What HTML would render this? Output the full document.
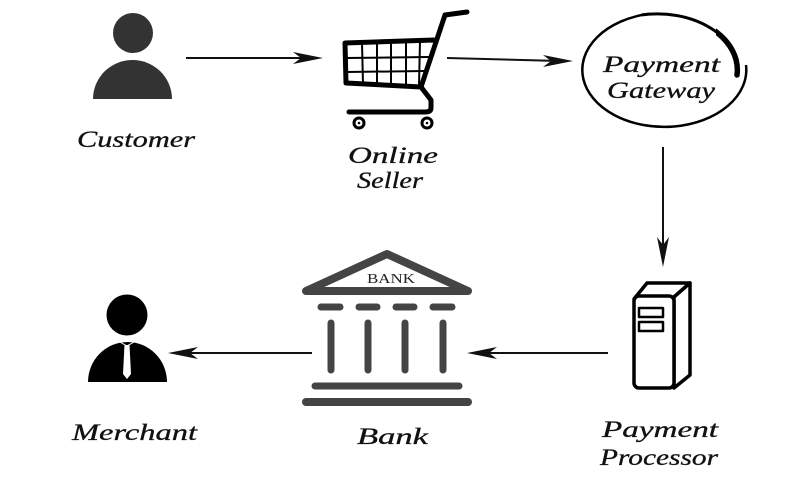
<!DOCTYPE html>
<html><head><meta charset="utf-8"><style>
html,body{margin:0;padding:0;background:#fff;width:800px;height:480px;overflow:hidden}
svg{display:block}
.t{font-family:"Liberation Serif","DejaVu Serif",serif;font-style:italic;font-size:23px;fill:#111;stroke:#111;stroke-width:0.3}
</style></head><body>
<svg width="800" height="480" viewBox="0 0 800 480" xmlns="http://www.w3.org/2000/svg">
<defs>
<clipPath id="ck"><rect x="716" y="0" width="50" height="90"/></clipPath>
</defs>
<!-- Customer -->
<circle cx="133" cy="33" r="20" fill="#333"/>
<path d="M93 99 A39.5 39 0 0 1 172 99 Z" fill="#333"/>
<text class="t" x="77" y="147" textLength="118" lengthAdjust="spacingAndGlyphs">Customer</text>

<!-- Arrow customer -> seller -->
<line x1="186" y1="58" x2="310" y2="58" stroke="#111" stroke-width="2"/>
<path d="M323 58 L293 52 L301 58 L293 64 Z" fill="#111"/>

<!-- Cart -->
<g fill="none" stroke="#000" stroke-linecap="round" stroke-linejoin="round">
<path d="M445 15 L467 12" stroke-width="5"/>
<path d="M445 15 L421 87 L346 83 L345 43 L434 40" stroke-width="5"/>
<path d="M421 87 L431 100 L431 108 Q431 112 425 112 L349 112" stroke-width="5"/>
<g stroke-width="2">
<line x1="362" y1="43" x2="363" y2="84"/>
<line x1="377" y1="42" x2="377" y2="85"/>
<line x1="391" y1="42" x2="391" y2="85"/>
<line x1="406" y1="41" x2="406" y2="86"/>
<line x1="420" y1="41" x2="419" y2="86"/>
<line x1="346" y1="58" x2="429" y2="57"/>
<line x1="347" y1="72" x2="425" y2="71"/>
</g>
</g>
<circle cx="359" cy="123" r="5" fill="#fff" stroke="#000" stroke-width="3"/>
<circle cx="427" cy="123" r="5" fill="#fff" stroke="#000" stroke-width="3"/>
<circle cx="359" cy="123" r="1.3" fill="#000"/>
<circle cx="427" cy="123" r="1.3" fill="#000"/>
<text class="t" x="348" y="163" textLength="90" lengthAdjust="spacingAndGlyphs">Online</text>
<text class="t" x="357" y="188" textLength="66" lengthAdjust="spacingAndGlyphs">Seller</text>

<!-- Arrow seller -> gateway -->
<line x1="447" y1="58" x2="560" y2="61" stroke="#111" stroke-width="2"/>
<path d="M573 61 L543 55 L551 61 L543 67 Z" fill="#111"/>

<!-- Gateway ellipse -->
<path d="M746 65 A82 57 0 1 1 648.8 13.9" fill="none" stroke="#000" stroke-width="2.5"/>
<path d="M641.8 14.9 A80 56 0 0 1 737 75" fill="none" stroke="#000" stroke-width="3"/>
<path d="M641.8 14.9 A80 56 0 0 1 737 75" fill="none" stroke="#000" stroke-width="5.5" stroke-linecap="round" clip-path="url(#ck)"/>
<text class="t" x="603" y="72" textLength="117" lengthAdjust="spacingAndGlyphs">Payment</text>
<text class="t" x="607" y="98" textLength="108" lengthAdjust="spacingAndGlyphs">Gateway</text>

<!-- Arrow gateway -> processor -->
<line x1="663" y1="147" x2="663" y2="255" stroke="#111" stroke-width="2"/>
<path d="M663 267 L657 237 L663 245 L669 237 Z" fill="#111"/>

<!-- Server -->
<g fill="#fff" stroke="#000" stroke-width="3.5" stroke-linejoin="round">
<path d="M634 299 L647 283 L690 283 L674 297 Z"/>
<path d="M674 297 L690 283 L690 375 L674 388 Z"/>
<rect x="634" y="296" width="40" height="92" rx="5"/>
<rect x="639" y="308" width="24" height="9" stroke-width="2.5"/>
<rect x="639" y="322" width="24" height="9" stroke-width="2.5"/>
</g>
<text class="t" x="602" y="437" textLength="116" lengthAdjust="spacingAndGlyphs">Payment</text>
<text class="t" x="600" y="465" textLength="118" lengthAdjust="spacingAndGlyphs">Processor</text>

<!-- Arrow processor -> bank -->
<line x1="608" y1="353" x2="480" y2="353" stroke="#111" stroke-width="2"/>
<path d="M467 353 L497 347 L489 353 L497 359 Z" fill="#111"/>

<!-- Bank -->
<g stroke="#444" stroke-linecap="round" stroke-linejoin="round" fill="none">
<polygon points="387,254 306,291 468,291" fill="#fff" stroke-width="8"/>
<g stroke-width="7">
<line x1="321" y1="307" x2="340" y2="307"/>
<line x1="359" y1="307" x2="377" y2="307"/>
<line x1="396" y1="307" x2="414" y2="307"/>
<line x1="433" y1="307" x2="452" y2="307"/>
<line x1="331" y1="323" x2="331" y2="370"/>
<line x1="368" y1="323" x2="368" y2="370"/>
<line x1="405" y1="323" x2="405" y2="370"/>
<line x1="443" y1="323" x2="443" y2="370"/>
<line x1="315" y1="386" x2="459" y2="386"/>
</g>
<line x1="306" y1="402" x2="468" y2="402" stroke-width="8"/>
</g>
<text x="367" y="283" textLength="48" lengthAdjust="spacingAndGlyphs" style="font-family:'Liberation Serif',serif;font-size:14px;fill:#222">BANK</text>
<text class="t" x="357" y="444" textLength="71" lengthAdjust="spacingAndGlyphs">Bank</text>

<!-- Arrow bank -> merchant -->
<line x1="312" y1="353" x2="180" y2="353" stroke="#111" stroke-width="2"/>
<path d="M168 353 L198 347 L190 353 L198 359 Z" fill="#111"/>

<!-- Merchant -->
<circle cx="127" cy="315" r="20.5" fill="#000"/>
<path d="M88 382 A39.5 40 0 0 1 167 382 Z" fill="#000"/>
<path d="M120 342 L127 346 L134 342" fill="none" stroke="#fff" stroke-width="1"/>
<path d="M124.5 345 L129.5 345 L131 374 L127 379 L123 374 Z" fill="#fff"/>
<text class="t" x="72" y="440" textLength="125" lengthAdjust="spacingAndGlyphs">Merchant</text>
</svg>
</body></html>
